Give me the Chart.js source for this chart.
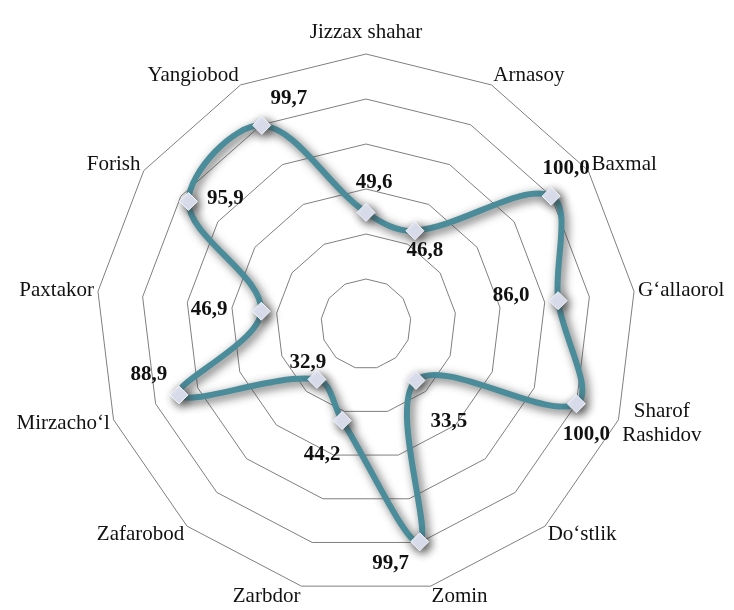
<!DOCTYPE html>
<html>
<head>
<meta charset="utf-8">
<script src="https://cdn.jsdelivr.net/npm/chart.js@4.4.1/dist/chart.umd.min.js"></script>
<style>
  html, body { margin: 0; padding: 0; background: #fff; }
</style>
</head>
<body>
<canvas id="myChart" width="734" height="610"></canvas>
<script>
const districts = ["Jizzax shahar", "Arnasoy", "Baxmal", "G‘allaorol", ["Sharof", "Rashidov"], "Do‘stlik",
  "Zomin", "Zarbdor", "Zafarobod", "Mirzacho‘l", "Paxtakor", "Forish", "Yangiobod"];
const coverage = [49.6, 46.8, 100.0, 86.0, 100.0, 33.5, 99.7, 44.2, 32.9, 88.9, 46.9, 95.9, 99.7];
const scaleTicks = [0, 20, 40, 60, 80, 100, 120];

// where each value label sits relative to its marker (dx, dy)
const labelShift = [[8, -30], [10, 20], [15, -28], [-47, -5], [10, 31], [33, 41], [-29, 22],
  [-20, 34], [-9, -17], [-30, -20], [-52, -2], [37, -3], [27, -27]];

const serif = "'Times New Roman', 'Liberation Serif', serif";

// grey halo under the line and markers
const shadowPlugin = {
  id: 'lineShadow',
  beforeDatasetsDraw(chart) {
    const ctx = chart.ctx;
    ctx.save();
    ctx.shadowColor = 'rgba(60,60,60,0.85)';
    ctx.shadowBlur = 10;
    ctx.shadowOffsetX = 3;
    ctx.shadowOffsetY = 3;
  },
  afterDatasetsDraw(chart) {
    chart.ctx.restore();
  }
};

const labelPlugin = {
  id: 'textLabels',
  afterDraw(chart) {
    const ctx = chart.ctx;
    const scale = chart.scales.r;
    const n = districts.length;
    ctx.save();
    ctx.fillStyle = '#111';
    ctx.textBaseline = 'middle';
    ctx.textAlign = 'center';

    // district names around the web
    ctx.font = '21px ' + serif;
    districts.forEach((name, i) => {
      const a = i * 2 * Math.PI / n;
      const s = Math.sin(a), c = Math.cos(a);
      const p = scale.getPointPosition(i, scale.drawingArea);
      const lines = Array.isArray(name) ? name : [name];
      const w = Math.max(...lines.map(t => ctx.measureText(t).width));
      let x = p.x + s * 4;
      let y = p.y - c * 11;
      let left;
      if (Math.abs(s) < 0.1) {
        left = x - w / 2;
        y -= 11 * Math.sign(c);
      } else if (s > 0) {
        left = x;
      } else {
        left = x - w;
      }
      lines.forEach((t, k) => {
        ctx.fillText(t, left + w / 2, y + (k - (lines.length - 1) / 2) * 24);
      });
    });

    // values next to markers
    ctx.font = 'bold 21px ' + serif;
    const meta = chart.getDatasetMeta(0);
    meta.data.forEach((pt, i) => {
      const [dx, dy] = labelShift[i];
      ctx.fillText(coverage[i].toFixed(1).replace('.', ','), pt.x + dx, pt.y + dy);
    });
    ctx.restore();
  }
};

new Chart("myChart", {
  type: "radar",
  data: {
    labels: districts,
    datasets: [{
      data: coverage,
      fill: false,
      borderColor: "#4a8c9a",
      borderWidth: 6,
      borderJoinStyle: "round",
      tension: 0.35,
      pointStyle: "rectRot",
      pointRadius: 9,
      pointBackgroundColor: "#e3e7f6",
      pointBorderColor: "#f3f5fc",
      pointBorderWidth: 1
    }]
  },
  options: {
    responsive: false,
    animation: false,
    layout: { padding: { top: 54, bottom: 16, left: 66, right: 68 } },
    plugins: {
      legend: { display: false },
      tooltip: { enabled: false }
    },
    scales: {
      r: {
        min: scaleTicks[0],
        max: scaleTicks[scaleTicks.length - 1],
        ticks: { stepSize: scaleTicks[1] - scaleTicks[0], display: false },
        grid: { color: "#7f7f7f", lineWidth: 1, circular: false },
        angleLines: { display: false },
        pointLabels: { display: false }
      }
    }
  },
  plugins: [shadowPlugin, labelPlugin]
});
</script>
</body>
</html>
